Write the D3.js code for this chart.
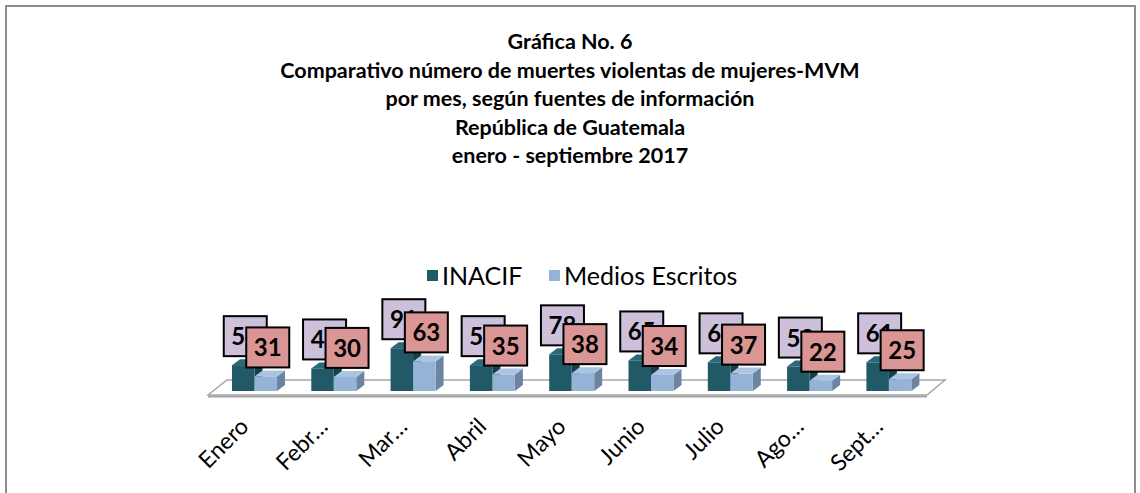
<!DOCTYPE html>
<html>
<head>
<meta charset="utf-8">
<script src="https://cdn.jsdelivr.net/npm/d3@7"></script>
<style>
  body { margin: 0; background: #fff; }
  svg { display: block; font-family: Lato, "Open Sans", sans-serif; }
</style>
</head>
<body>
<svg width="1140" height="493"></svg>
<script>
// data (INACIF labels are partly hidden, values estimated)
var months = ["Enero", "Febrero", "Marzo", "Abril", "Mayo", "Junio", "Julio", "Agosto", "Septiembre"];
var tickLabels = ["Enero", "Febr…", "Mar…", "Abril", "Mayo", "Junio", "Julio", "Ago…", "Sept…"];
var inacif = [55, 48, 91, 55, 78, 65, 61, 52, 61];
var medios = [31, 30, 63, 35, 38, 34, 37, 22, 25];
var seriesNames = ["INACIF", "Medios Escritos"];
var titleLines = [
  "Gráfica No. 6",
  "Comparativo número de muertes violentas de mujeres-MVM",
  "por mes, según fuentes de información",
  "República de Guatemala",
  "enero - septiembre 2017"
];

var svg = d3.select("svg");

// outer frame
svg.append("rect")
    .attr("x", 6).attr("y", 6)
    .attr("width", 1129).attr("height", 600)
    .attr("fill", "none")
    .attr("stroke", "#8c8c8c")
    .attr("stroke-width", 2);

// title
svg.append("g").selectAll("text")
    .data(titleLines)
  .enter().append("text")
    .attr("x", 570)
    .attr("y", function(d, i) { return 49 + i * 28.5; })
    .attr("text-anchor", "middle")
    .attr("font-weight", "bold")
    .attr("font-size", "21.5px")
    .attr("fill", "#000")
    .text(function(d) { return d; });

var colors = {
  INACIF: { front: "#215967", top: "#28697a", side: "#163f49", box: "#ccc0da" },
  "Medios Escritos": { front: "#95b3d7", top: "#aac4e2", side: "#6c84a2", box: "#da9694" }
};

// legend
var legend = svg.append("g").attr("transform", "translate(427,270)");
var lx = [0, 122];
seriesNames.forEach(function(s, i) {
  legend.append("rect")
      .attr("x", lx[i]).attr("y", 0)
      .attr("width", 11).attr("height", 11)
      .attr("fill", colors[s].front);
  legend.append("text")
      .attr("x", lx[i] + 15).attr("y", 14.5)
      .attr("font-size", "25px")
      .attr("fill", "#000")
      .text(s);
});

// scales
var baseY = 391;
var dx = 8, dy = -6;
var x = d3.scaleBand().domain(months).range([214.35, 214.35 + 9 * 79.3]);
var x1 = d3.scaleBand().domain(seriesNames).range([-22, 23]);
var y = d3.scaleLinear().domain([0, 100]).range([baseY, baseY - 47]);

// floor
var floor = [[208, 395], [927, 395], [945, 380], [227, 380]];
svg.append("polygon")
    .attr("points", floor.map(function(p) { return p.join(","); }).join(" "))
    .attr("fill", "#fff")
    .attr("stroke", "#a6a6a6")
    .attr("stroke-width", 1.5);
svg.append("line")
    .attr("x1", 208).attr("x2", 927)
    .attr("y1", 396.5).attr("y2", 396.5)
    .attr("stroke", "#a6a6a6")
    .attr("stroke-width", 2);

var rows = months.map(function(m, i) {
  return { month: m, values: [{ s: "INACIF", v: inacif[i] }, { s: "Medios Escritos", v: medios[i] }] };
});

var groups = svg.append("g").selectAll("g")
    .data(rows)
  .enter().append("g")
    .attr("transform", function(d) { return "translate(" + (x(d.month) + x.bandwidth() / 2) + ",0)"; });

var bars = groups.selectAll("g.bar")
    .data(function(d) { return d.values; })
  .enter().append("g")
    .attr("class", "bar");

bars.each(function(d) {
  var g = d3.select(this);
  var x0 = x1(d.s), w = x1.bandwidth(), yt = y(d.v);
  // side face
  g.append("polygon")
      .attr("points", [[x0 + w, yt], [x0 + w + dx, yt + dy], [x0 + w + dx, baseY + dy], [x0 + w, baseY]].join(" "))
      .attr("fill", colors[d.s].side);
  // top face
  g.append("polygon")
      .attr("points", [[x0, yt], [x0 + dx, yt + dy], [x0 + w + dx, yt + dy], [x0 + w, yt]].join(" "))
      .attr("fill", colors[d.s].top);
  // front face
  g.append("rect")
      .attr("x", x0).attr("y", yt)
      .attr("width", w).attr("height", baseY - yt)
      .attr("fill", colors[d.s].front);
});

// data label boxes
var labels = groups.selectAll("g.lbl")
    .data(function(d) { return d.values; })
  .enter().append("g")
    .attr("class", "lbl")
    .attr("transform", function(d) {
      var cx = x1(d.s) + x1.bandwidth() / 2 + 2;
      return "translate(" + (cx - 21.5) + "," + (y(d.v) - 49) + ")";
    });

labels.append("rect")
    .attr("width", 43).attr("height", 40)
    .attr("fill", function(d) { return colors[d.s].box; })
    .attr("stroke", "#000")
    .attr("stroke-width", 2);

labels.append("text")
    .attr("x", 21.5).attr("y", 29)
    .attr("text-anchor", "middle")
    .attr("font-weight", "bold")
    .attr("font-size", "24px")
    .attr("fill", "#000")
    .text(function(d) { return d.v; });

// category axis
var axis = svg.append("g")
    .attr("transform", "translate(0,418)")
    .call(d3.axisBottom(x).tickSize(0).tickFormat(function(d, i) { return tickLabels[i]; }));
axis.select(".domain").remove();
axis.selectAll("text")
    .attr("font-family", "Lato, sans-serif")
    .attr("font-size", "23px")
    .attr("fill", "#000")
    .attr("text-anchor", "end")
    .attr("y", 0)
    .attr("dy", 0)
    .attr("transform", "translate(-4,10) rotate(-45)");
</script>
</body>
</html>
